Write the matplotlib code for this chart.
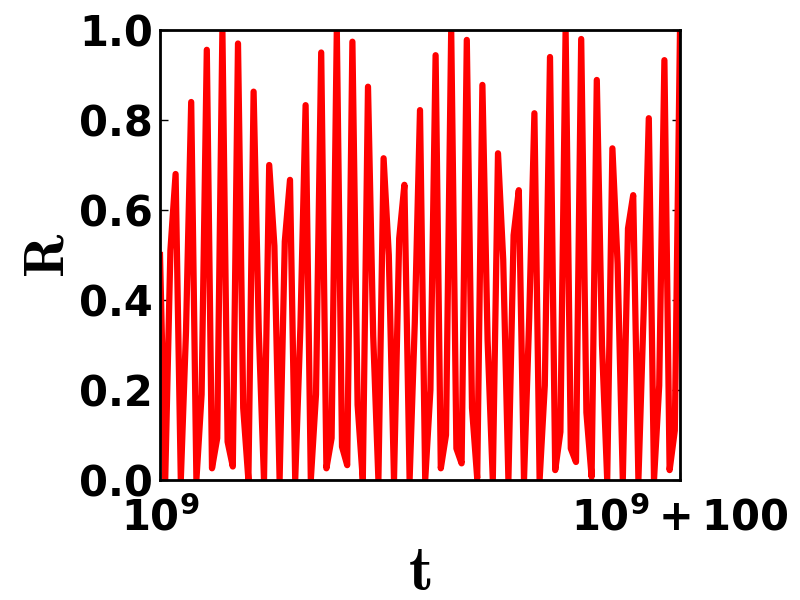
import numpy as np
import matplotlib
matplotlib.use("Agg")
import matplotlib.pyplot as plt

# steps after t0 = 1e9
t0 = 1e9
steps = list(range(0, 101))
R = [0.50, 0.0, 0.51, 0.68, 0.0, 0.33, 0.84, 0.0, 0.19, 0.956,
     0.026, 0.093, 1.0, 0.085, 0.03, 0.97, 0.16, 0.0, 0.863, 0.33,
     0.0, 0.70, 0.52, 0.0, 0.53, 0.667, 0.0, 0.34, 0.833, 0.0,
     0.19, 0.95, 0.026, 0.093, 1.0, 0.074, 0.033, 0.974, 0.167, 0.0,
     0.874, 0.32, 0.0, 0.715, 0.50, 0.0, 0.537, 0.656, 0.0, 0.35,
     0.822, 0.0, 0.20, 0.944, 0.026, 0.10, 1.0, 0.07, 0.037, 0.978,
     0.16, 0.004, 0.878, 0.31, 0.0, 0.726, 0.49, 0.0, 0.544, 0.644,
     0.0, 0.36, 0.815, 0.0, 0.21, 0.94, 0.022, 0.107, 1.0, 0.07,
     0.04, 0.98, 0.15, 0.007, 0.889, 0.30, 0.0, 0.737, 0.48, 0.0,
     0.559, 0.633, 0.0, 0.37, 0.804, 0.0, 0.21, 0.933, 0.022, 0.11,
     1.0]

xtick_vals = [0, 100]
xtick_labels = [r"$\mathbf{10^9}$", r"$\mathbf{10^9 + 100}$"]
ytick_vals = [0.0, 0.2, 0.4, 0.6, 0.8, 1.0]

t = t0 + np.array(steps, dtype=float)

fig = plt.figure(figsize=(8, 6), dpi=100)
ax = fig.add_axes([0.2, 0.2, 0.65, 0.75])
ax.plot(t, R, color="red", linewidth=4.5)

ax.set_xlim(t0, t0 + 100)
ax.set_ylim(0, 1)
ax.set_xticks([t0 + v for v in xtick_vals])
ax.set_xticklabels(xtick_labels, fontsize=30, math_fontfamily="dejavusans")
ax.set_yticks(ytick_vals)
ax.set_yticklabels([f"{v:.1f}" for v in ytick_vals], fontsize=30, fontweight="bold")
ax.tick_params(direction="in", top=True, right=True, length=6, width=1)
ax.tick_params(axis="x", pad=12)
ax.tick_params(axis="y", pad=5)

for s in ax.spines.values():
    s.set_linewidth(2)

ax.set_xlabel(r"$\mathbf{t}$", fontsize=46, math_fontfamily="cm", labelpad=1)
ax.set_ylabel(r"$\mathbf{R}$", fontsize=41, math_fontfamily="cm", labelpad=3)

fig.savefig("out.png", dpi=100)
